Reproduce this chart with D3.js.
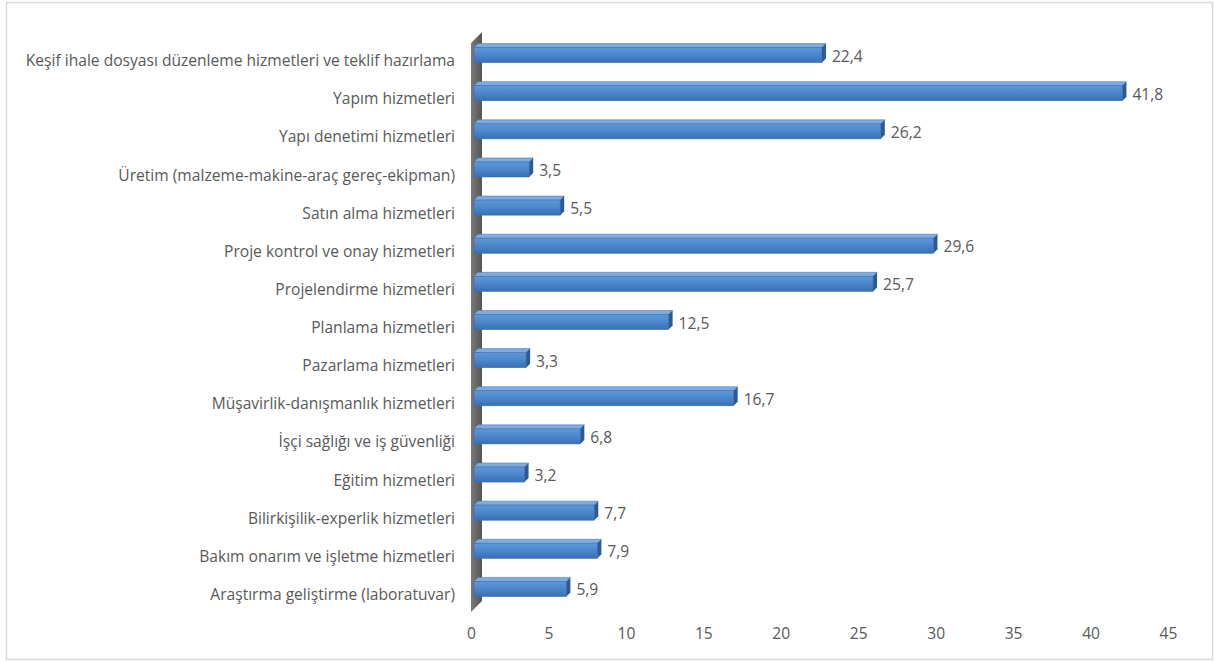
<!DOCTYPE html>
<html>
<head>
<meta charset="utf-8">
<script src="https://cdn.jsdelivr.net/npm/d3@7"></script>
<style>
  html, body { margin: 0; padding: 0; background: #fff; }
  svg { display: block; }
  text { font-family: "Open Sans", Lato, sans-serif; fill: #595959; }
</style>
</head>
<body>
<svg id="chart" width="1215" height="662"></svg>
<script>
const categories = [
  "Keşif ihale dosyası düzenleme hizmetleri ve teklif hazırlama",
  "Yapım hizmetleri",
  "Yapı denetimi hizmetleri",
  "Üretim (malzeme-makine-araç gereç-ekipman)",
  "Satın alma hizmetleri",
  "Proje kontrol ve onay hizmetleri",
  "Projelendirme hizmetleri",
  "Planlama hizmetleri",
  "Pazarlama hizmetleri",
  "Müşavirlik-danışmanlık hizmetleri",
  "İşçi sağlığı ve iş güvenliği",
  "Eğitim hizmetleri",
  "Bilirkişilik-experlik hizmetleri",
  "Bakım onarım ve işletme hizmetleri",
  "Araştırma geliştirme (laboratuvar)"
];
const values = [22.4, 41.8, 26.2, 3.5, 5.5, 29.6, 25.7, 12.5, 3.3, 16.7, 6.8, 3.2, 7.7, 7.9, 5.9];
const tickValues = [0, 5, 10, 15, 20, 25, 30, 35, 40, 45];

const svg = d3.select("#chart");
const fontSize = 15.6;

// outer frame
svg.append("rect")
  .attr("x", 6.5).attr("y", 2.5).attr("width", 1206).attr("height", 657)
  .attr("fill", "#fff").attr("stroke", "#d9d9d9").attr("stroke-width", 1.5);

const x = d3.scaleLinear().domain([0, 45]).range([471, 1168]);
const y = d3.scaleBand().domain(categories).range([34, 606]).paddingInner(0.5).paddingOuter(0.25);

const depth = 11;        // wall depth
const bdx = 4, bdy = -4; // bar depth offset

// gradient definitions
const defs = svg.append("defs");
const gFront = defs.append("linearGradient").attr("id", "front").attr("x1", 0).attr("y1", 0).attr("x2", 0).attr("y2", 1);
gFront.append("stop").attr("offset", "0%").attr("stop-color", "#5e98da");
gFront.append("stop").attr("offset", "45%").attr("stop-color", "#4d88cd");
gFront.append("stop").attr("offset", "100%").attr("stop-color", "#3a6fb2");
const gWall = defs.append("linearGradient").attr("id", "wall").attr("x1", 0).attr("y1", 0).attr("x2", 1).attr("y2", 0);
gWall.append("stop").attr("offset", "0%").attr("stop-color", "#7a7a7a");
gWall.append("stop").attr("offset", "100%").attr("stop-color", "#555555");

// side wall of the 3D plot area
const x0 = x(0);
const wallTop = 43, wallBot = 612;
svg.append("polygon")
  .attr("points", [
    [x0, wallTop], [x0 + depth, wallTop - depth],
    [x0 + depth, wallBot - depth], [x0, wallBot]
  ].map(p => p.join(",")).join(" "))
  .attr("fill", "url(#wall)");

// bars
const bars = svg.append("g").selectAll("g").data(categories).join("g");
bars.each(function(c, i) {
  const g = d3.select(this);
  const v = values[i];
  const bw = y.bandwidth();
  const yt = y(c) - bdy;
  const yb = y(c) + bw;
  const xs = x0 + 3;
  const xe = x(v) + 4;
  // top face
  g.append("polygon")
    .attr("points", [[xs, yt], [xe, yt], [xe + bdx, yt + bdy], [xs + bdx, yt + bdy]].map(p => p.join(",")).join(" "))
    .attr("fill", "#80abdf").attr("stroke", "#4a7fc0").attr("stroke-width", 0.6);
  // front face
  g.append("rect")
    .attr("x", xs).attr("y", yt).attr("width", xe - xs).attr("height", yb - yt)
    .attr("fill", "url(#front)").attr("stroke", "#3d6fae").attr("stroke-width", 0.6);
  // right end cap
  g.append("polygon")
    .attr("points", [[xe, yt], [xe + bdx, yt + bdy], [xe + bdx, yb + bdy], [xe, yb]].map(p => p.join(",")).join(" "))
    .attr("fill", "#2b5a96");
  // value label
  g.append("text")
    .attr("x", xe + bdx + 6)
    .attr("y", yb - 1)
    .attr("font-size", fontSize)
    .text(d3.format(".1f")(v).replace(".", ","));
});

// category labels
svg.append("g").selectAll("text").data(categories).join("text")
  .attr("x", 455)
  .attr("y", d => y(d) + y.bandwidth() + 3.5)
  .attr("text-anchor", "end")
  .attr("font-size", fontSize)
  .text(d => d);

// value axis
const axis = d3.axisBottom(x).tickValues(tickValues).tickSize(0).tickPadding(0).tickFormat(d3.format("d"));
const ag = svg.append("g").attr("transform", "translate(0,628)").call(axis);
ag.select(".domain").remove();
ag.selectAll("text").attr("font-size", fontSize).attr("fill", "#595959").attr("dy", "0.71em");
</script>
</body>
</html>
